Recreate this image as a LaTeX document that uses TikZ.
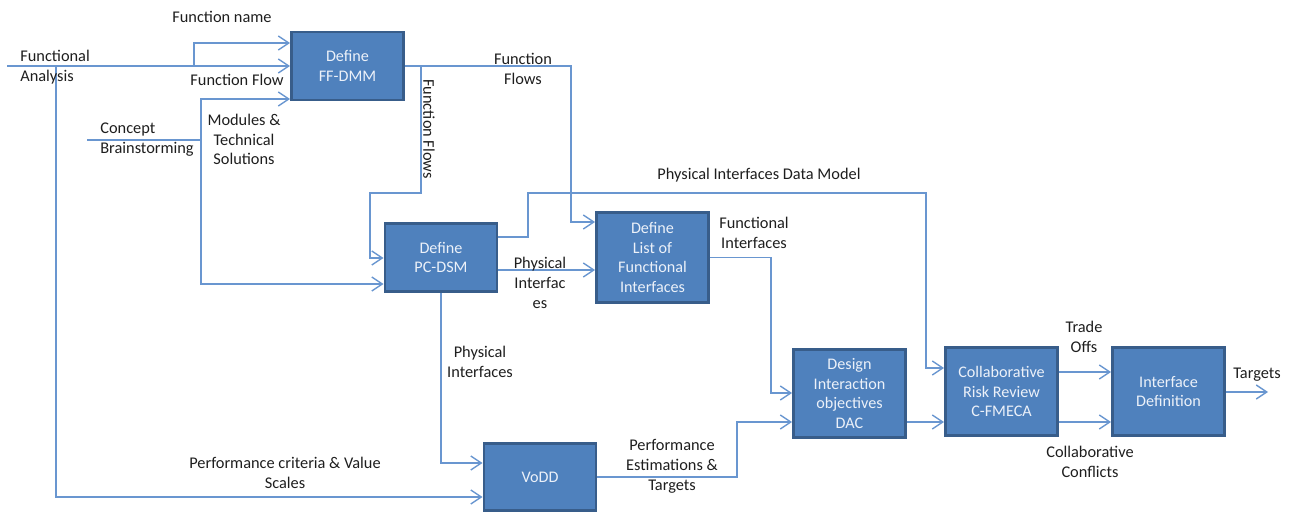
\documentclass[tikz,border=0pt]{standalone}
\usepackage{fontspec}
\setmainfont{Carlito}
\usetikzlibrary{arrows.meta}
\definecolor{boxblue}{RGB}{79,129,189}
\definecolor{boxedge}{RGB}{56,93,138}
\definecolor{lineblue}{RGB}{105,150,208}
\definecolor{boxtext}{RGB}{236,241,249}
\definecolor{labeltext}{RGB}{30,30,30}

\begin{document}
\begin{tikzpicture}[x=0.02cm, y=-0.02cm,
  stage/.style={draw=boxedge, line width=1.6pt, fill=boxblue, text=boxtext, align=center,
    font=\fontsize{9.2}{11.2}\selectfont, minimum width=2.24cm, minimum height=1.36cm, inner sep=1pt},
  lbl/.style={text=labeltext, align=center, font=\fontsize{9.3}{11.3}\selectfont, inner sep=0pt},
  wire/.style={draw=lineblue, line width=0.8pt},
  flow/.style={wire, -{Straight Barb[length=6pt,width=8pt]}}]
\useasboundingbox (0,0) rectangle (1299,513);
% Process boxes
\node[stage] (ffdmm) at (347.5,66) {Define\\FF-DMM};
\node[stage] (pcdsm) at (441,257.5) {Define\\PC-DSM};
\node[stage, minimum height=1.8cm] (lfi) at (652.5,257.5) {Define\\List of\\Functional\\Interfaces};
\node[stage, minimum height=1.76cm] (dac) at (849.5,393.5) {Design\\Interaction\\objectives\\DAC};
\node[stage, minimum height=1.76cm] (cfmeca) at (1001.5,391.5) {Collaborative\\Risk Review\\C-FMECA};
\node[stage, minimum height=1.76cm] (idef) at (1168.5,391.5) {Interface\\Definition};
\node[stage, minimum height=1.34cm] (vodd) at (540,477) {VoDD};
% Routing points
\coordinate (faIn) at (7,66);
\coordinate (faUp) at (194,43);
\coordinate (faDn) at (56,497);
\coordinate (cbIn) at (87,140);
\coordinate (cbUp) at (201,99);
\coordinate (cbDn) at (201,284);
\coordinate (ffA) at (421,193);
\coordinate (ffB) at (370,258);
\coordinate (ffC) at (571,222);
\coordinate (dmA) at (528,237);
\coordinate (dmB) at (926,193);
\coordinate (dmC) at (926,368);
\coordinate (piA) at (520,270);
\coordinate (pvA) at (442,463);
\coordinate (vdA) at (737,422);
\coordinate (fiA) at (771,393);
\coordinate (toA) at (1075,372);
\coordinate (ccA) at (1075,422);
\coordinate (tgOut) at (1268,392);
% Functional Analysis inputs
\draw[flow] (faIn) -- (faIn -| ffdmm.west);
\draw[flow] (faIn -| faUp) |- (ffdmm.west |- faUp);
\draw[flow] (faIn -| faDn) |- (vodd.west |- faDn);
% Concept Brainstorming inputs
\draw[wire] (cbIn) -- (cbIn -| cbUp);
\draw[flow] (cbIn -| cbUp) |- (ffdmm.west |- cbUp);
\draw[flow] (cbIn -| cbUp) |- (pcdsm.west |- cbDn);
% Function flows
\draw[flow] (ffdmm.east) -| (ffA) -| (ffB) -- (ffB -| pcdsm.west);
\draw[flow] (ffdmm.east) -| (ffC) -- (ffC -| lfi.west);
% Physical interfaces
\draw[flow] (pcdsm.east |- dmA) -- (dmA) |- (dmB) |- (cfmeca.west |- dmC);
\draw[flow] (pcdsm.east |- piA) -- (lfi.west |- piA);
\draw[flow] (pcdsm.south) |- (vodd.west |- pvA);
% Towards DAC
\draw[flow] (vodd.east) -| (vdA) -- (vdA -| dac.west);
\draw[flow] (lfi.east) -| (fiA) -- (fiA -| dac.west);
\draw[flow] (vdA -| dac.east) -- (vdA -| cfmeca.west);
% Review and definition
\draw[flow] (toA -| cfmeca.east) -- (toA -| idef.west);
\draw[flow] (ccA -| cfmeca.east) -- (ccA -| idef.west);
\draw[flow] (idef.east |- tgOut) -- (tgOut);
% Labels
\node[lbl] (fname) at (222,17) {Function name};
\node[lbl, anchor=west, align=left] (fanalysis) at (20,67) {Functional\\Analysis};
\node[lbl, anchor=west, align=left] (cbrain) at (100,140) {Concept\\Brainstorming};
\node[lbl] (fflow) at (237,80) {Function Flow};
\node[lbl] (modsol) at (244,139.5) {Modules \&\\Technical\\Solutions};
\node[lbl, rotate=-90] (fflowsv) at (429,129) {Function Flows};
\node[lbl] (fflows) at (523,69) {Function\\Flows};
\node[lbl] (pidm) at (759,175) {Physical Interfaces Data Model};
\node[lbl] (physif) at (540,283) {Physical\\Interfac\\es};
\node[lbl] (funcif) at (754,233) {Functional\\Interfaces};
\node[lbl] (physvo) at (480,362) {Physical\\Interfaces};
\node[lbl] (perfest) at (672,466) {Performance\\Estimations \&\\Targets};
\node[lbl] (perfcrit) at (285,473) {Performance criteria \& Value\\Scales};
\node[lbl] (tradeoff) at (1084,337) {Trade\\Offs};
\node[lbl] (collconf) at (1090,462) {Collaborative\\Conflicts};
\node[lbl] (targets) at (1257,375) {Targets};
\end{tikzpicture}
\end{document}
